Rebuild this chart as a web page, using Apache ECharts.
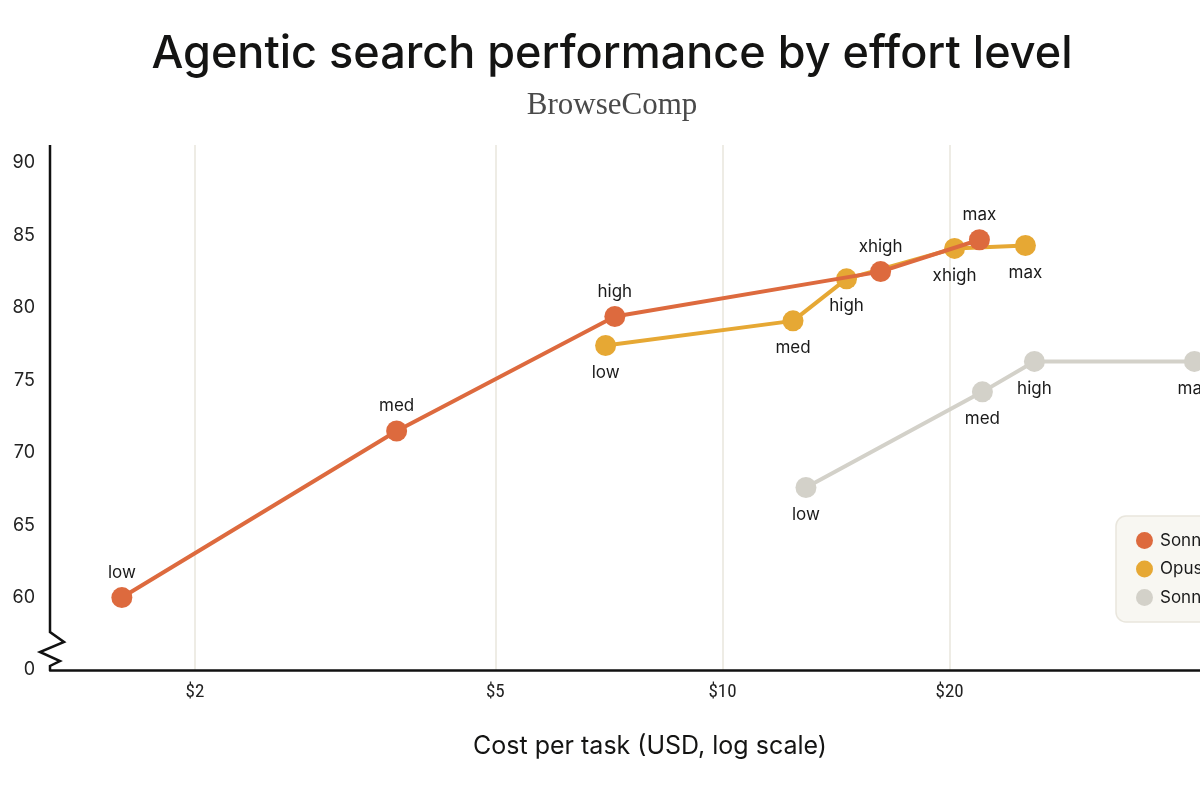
<!DOCTYPE html>
<html>
<head>
<meta charset="utf-8">
<script src="https://cdn.jsdelivr.net/npm/echarts@6/dist/echarts.min.js"></script>
<style>
  html, body { margin: 0; padding: 0; background: #ffffff; overflow: hidden; width: 1200px; height: 800px; }
  #chart { width: 1300px; height: 800px; }
</style>
</head>
<body>
<div id="chart"></div>
<script>
// ---- Data ----
const seriesNames = ['Sonnet 4.7', 'Opus 4.7', 'Sonnet 4.6'];
const seriesColors = ['#dd6a3e', '#e6a834', '#d3d1c9'];

const sonnetNewLevels = ['low', 'med', 'high', 'xhigh', 'max'];
const sonnetNewCost   = [1.6, 3.7, 7.2, 16.2, 21.9];
const sonnetNewScore  = [60.0, 71.5, 79.4, 82.5, 84.7];

const opusLevels = ['low', 'med', 'high', 'xhigh', 'max'];
const opusCost   = [7.0, 12.4, 14.6, 20.3, 25.2];
const opusScore  = [77.4, 79.1, 82.0, 84.1, 84.3];

const sonnetOldLevels = ['low', 'med', 'high', 'max'];
const sonnetOldCost   = [12.9, 22.1, 25.9, 42.2];
const sonnetOldScore  = [67.6, 74.2, 76.3, 76.3];

const xTickValues = [2, 5, 10, 20];
const yTickLabelZero = 55; // position of the broken-axis "0" label

const FONT = 'Inter, "Noto Sans", sans-serif';

function pts(cost, score, levels) {
  return cost.map((c, i) => ({ value: [c, score[i]], name: levels[i] }));
}

function makeSeries(name, color, data, labelPos, z) {
  return {
    name: name,
    type: 'line',
    data: data,
    z: z,
    symbol: 'circle',
    symbolSize: 21,
    itemStyle: { color: color },
    lineStyle: { color: color, width: 4 },
    emphasis: { disabled: true },
    label: {
      show: true,
      position: labelPos,
      distance: labelPos === 'top' ? 6 : 8,
      formatter: p => p.data.name,
      color: '#1a1a1a',
      fontFamily: FONT,
      fontSize: 17
    },
    animation: false
  };
}

const chart = echarts.init(document.getElementById('chart'), null, { renderer: 'canvas' });

const opt = {
  backgroundColor: '#ffffff',
  animation: false,
  title: [
    {
      text: 'Agentic search performance by effort level',
      left: 607, top: 27, textAlign: 'center',
      textStyle: { fontFamily: FONT, fontSize: 45, fontWeight: 500, color: '#141413' }
    },
    {
      text: 'BrowseComp',
      left: 607, top: 85, textAlign: 'center',
      textStyle: { fontFamily: '"Liberation Serif", "DejaVu Serif", serif', fontSize: 31, fontWeight: 'normal', color: '#4a4a4a' }
    }
  ],
  legend: {
    data: seriesNames,
    orient: 'vertical',
    left: 1116, top: 516,
    padding: [16, 20, 16, 20],
    itemWidth: 17, itemHeight: 17, itemGap: 11.5,
    icon: 'circle',
    backgroundColor: '#f8f7f2',
    borderColor: '#e9e6dd',
    borderWidth: 1.5,
    borderRadius: 10,
    textStyle: { fontFamily: FONT, fontSize: 17, color: '#1a1a1a', padding: [0, 0, 0, 2] }
  },
  grid: { left: 50, right: 50, top: 145, bottom: 130, containLabel: false },
  xAxis: {
    type: 'log',
    logBase: 10,
    min: 1.285,
    max: 50,
    name: 'Cost per task (USD, log scale)',
    nameLocation: 'middle',
    nameGap: 64,
    nameTextStyle: { fontFamily: FONT, fontSize: 25, color: '#141413' },
    axisLine: { show: true, lineStyle: { color: '#111111', width: 2.5 } },
    axisTick: { show: false, customValues: xTickValues },
    axisLabel: {
      customValues: xTickValues,
      formatter: v => '$' + v,
      fontFamily: '"Liberation Sans Narrow", "Roboto Condensed", Roboto, sans-serif',
      fontSize: 19, color: '#222', margin: 13
    },
    splitLine: { show: true, lineStyle: { color: '#e8e6dd', width: 1.5 } }
  },
  yAxis: {
    type: 'value',
    min: 55,
    max: 91.24,
    interval: 5,
    axisLine: { show: false },
    axisTick: { show: false },
    splitLine: { show: false },
    axisLabel: {
      showMaxLabel: false,
      formatter: v => (v === yTickLabelZero ? '0' : String(v)),
      fontFamily: FONT, fontSize: 18, color: '#222', margin: 15
    }
  },
  series: [
    makeSeries(seriesNames[2], seriesColors[2], pts(sonnetOldCost, sonnetOldScore, sonnetOldLevels), 'bottom', 2),
    makeSeries(seriesNames[1], seriesColors[1], pts(opusCost, opusScore, opusLevels), 'bottom', 3),
    makeSeries(seriesNames[0], seriesColors[0], pts(sonnetNewCost, sonnetNewScore, sonnetNewLevels), 'top', 4)
  ]
};
chart.setOption(opt);

// Broken y-axis line drawn from the axis scale
function drawAxis() {
  const top = chart.convertToPixel({ gridIndex: 0 }, [1.285, 91.24]);
  const bottom = chart.convertToPixel({ gridIndex: 0 }, [1.285, 55]);
  const x = top[0], yT = top[1], yB = bottom[1];
  const pointsLine = [
    [x, yT], [x, yB - 38], [x + 14, yB - 28], [x - 10, yB - 18],
    [x + 10, yB - 9], [x, yB - 4], [x, yB]
  ];
  chart.setOption({
    graphic: [{
      type: 'polyline',
      shape: { points: pointsLine },
      style: { stroke: '#111111', lineWidth: 2.5, fill: null, lineJoin: 'miter' },
      z: 10, silent: true
    }]
  });
}
drawAxis();
</script>
</body>
</html>
